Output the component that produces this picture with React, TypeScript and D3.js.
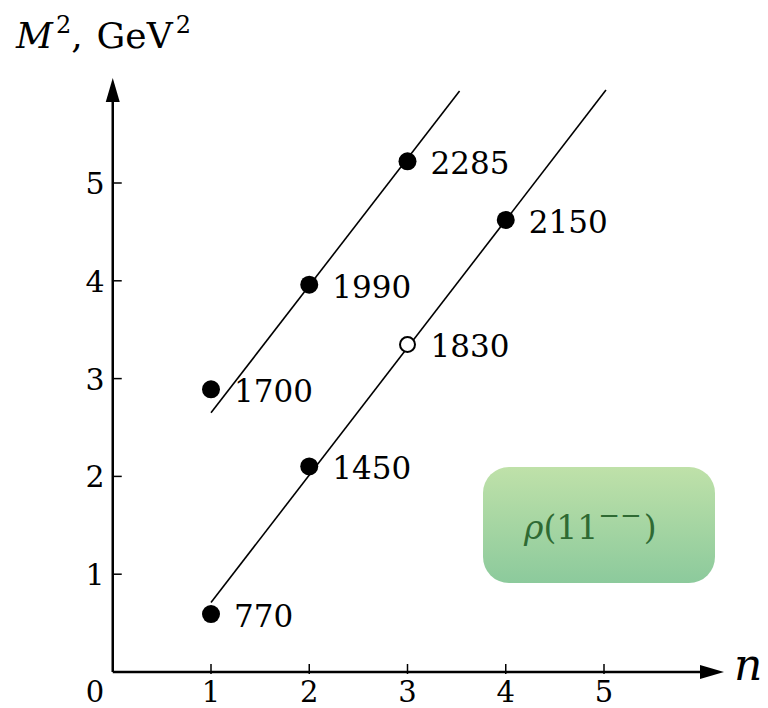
import { useRef, useEffect } from 'react';
import * as d3 from 'd3';

// states: radial number n, mass in MeV (M^2 = (mass/1000)^2)
const upperStates = [
  { n: 1, mass: 1700, open: false },
  { n: 2, mass: 1990, open: false },
  { n: 3, mass: 2285, open: false },
];
const lowerStates = [
  { n: 1, mass: 770, open: false },
  { n: 2, mass: 1450, open: false },
  { n: 3, mass: 1830, open: true },
  { n: 4, mass: 2150, open: false },
];
// trajectory end points (n, M^2)
const upperLine = [
  { n: 1, m2: 2.65 },
  { n: 3.53, m2: 5.94 },
];
const lowerLine = [
  { n: 1, m2: 0.71 },
  { n: 5.02, m2: 5.95 },
];
const xTicks = [1, 2, 3, 4, 5];
const yTicks = [1, 2, 3, 4, 5];

const W = 768;
const H = 708;
const FONT = '"DejaVu Serif", "Liberation Serif", serif';

const App = () => {
  const ref = useRef<SVGSVGElement>(null);

  useEffect(() => {
    const svg = d3.select(ref.current);
    svg.selectAll('*').remove();

    const x = d3.scaleLinear().domain([0, 5]).range([112.75, 604]);
    const y = d3.scaleLinear().domain([0, 5]).range([672, 183]);

    const grad = svg.append('defs').append('linearGradient')
      .attr('id', 'boxGrad')
      .attr('x1', 0).attr('y1', 0).attr('x2', 0).attr('y2', 1);
    grad.append('stop').attr('offset', '0%').attr('stop-color', '#bfe1a9');
    grad.append('stop').attr('offset', '100%').attr('stop-color', '#8cca9c');

    // axes
    const x0 = x(0);
    const y0 = y(0);
    svg.append('line')
      .attr('x1', x0).attr('y1', y0).attr('x2', 710).attr('y2', y0)
      .attr('stroke', '#000').attr('stroke-width', 2.5);
    svg.append('path')
      .attr('d', `M${724},${y0} L${700},${y0 - 7} L${700},${y0 + 7} z`)
      .attr('fill', '#000');
    svg.append('line')
      .attr('x1', x0).attr('y1', y0).attr('x2', x0).attr('y2', 95)
      .attr('stroke', '#000').attr('stroke-width', 2.5);
    svg.append('path')
      .attr('d', `M${x0},${78} L${x0 - 7},${102} L${x0 + 7},${102} z`)
      .attr('fill', '#000');

    svg.selectAll('.xtick')
      .data(xTicks)
      .enter().append('line')
      .attr('x1', d => x(d)).attr('x2', d => x(d))
      .attr('y1', y0 - 8).attr('y2', y0 + 2)
      .attr('stroke', '#000').attr('stroke-width', 1.5);
    svg.selectAll('.xlabel')
      .data([0, ...xTicks])
      .enter().append('text')
      .attr('x', d => (d === 0 ? 95 : x(d)))
      .attr('y', 702)
      .attr('text-anchor', 'middle')
      .attr('font-family', FONT).attr('font-size', 29)
      .text(d => d);

    svg.selectAll('.ytick')
      .data(yTicks)
      .enter().append('line')
      .attr('x1', x0).attr('x2', x0 + 9)
      .attr('y1', d => y(d)).attr('y2', d => y(d))
      .attr('stroke', '#000').attr('stroke-width', 1.5);
    svg.selectAll('.ylabel')
      .data(yTicks)
      .enter().append('text')
      .attr('x', 95).attr('y', d => y(d) + 11)
      .attr('text-anchor', 'middle')
      .attr('font-family', FONT).attr('font-size', 30)
      .text(d => d);

    // axis titles
    const t = svg.append('text')
      .attr('x', 16).attr('y', 48)
      .attr('font-family', FONT).attr('font-size', 36);
    t.append('tspan').attr('font-style', 'italic').text('M');
    t.append('tspan').attr('font-size', 24).attr('dx', 3).attr('dy', -15).text('2');
    t.append('tspan').attr('dy', 15).text(',');
    t.append('tspan').attr('dx', 14).text('GeV');
    t.append('tspan').attr('font-size', 24).attr('dx', 3).attr('dy', -15).text('2');

    svg.append('text')
      .attr('x', 734).attr('y', 680)
      .attr('font-family', FONT).attr('font-style', 'italic').attr('font-size', 44)
      .text('n');

    // trajectories
    const line = d3.line<{ n: number; m2: number }>()
      .x(d => x(d.n)).y(d => y(d.m2));
    [upperLine, lowerLine].forEach(l => {
      svg.append('path')
        .attr('d', line(l))
        .attr('fill', 'none')
        .attr('stroke', '#000').attr('stroke-width', 1.6);
    });

    // states
    const states = [...upperStates, ...lowerStates];
    const m2 = (d: { mass: number }) => (d.mass / 1000) ** 2;
    svg.selectAll('.pt')
      .data(states)
      .enter().append('circle')
      .attr('cx', d => x(d.n)).attr('cy', d => y(m2(d)))
      .attr('r', d => (d.open ? 7.5 : 9))
      .attr('fill', d => (d.open ? '#fff' : '#000'))
      .attr('stroke', '#000').attr('stroke-width', d => (d.open ? 2 : 0));
    svg.selectAll('.pl')
      .data(states)
      .enter().append('text')
      .attr('x', d => x(d.n) + 23).attr('y', d => y(m2(d)) + 13)
      .attr('font-family', FONT).attr('font-size', 31)
      .text(d => d.mass);

    // label box
    svg.append('rect')
      .attr('x', 483).attr('y', 467)
      .attr('width', 232).attr('height', 116)
      .attr('rx', 26).attr('ry', 26)
      .attr('fill', 'url(#boxGrad)');
    const lb = svg.append('text')
      .attr('x', 524).attr('y', 539)
      .attr('font-family', FONT).attr('font-size', 33)
      .attr('fill', '#2f6a33');
    lb.append('tspan').attr('font-style', 'italic').text('ρ');
    lb.append('tspan').text('(11');
    lb.append('tspan').attr('font-size', 26).attr('dy', -15).text('−−');
    lb.append('tspan').attr('dx', 2).attr('dy', 15).text(')');
  }, []);

  return (
    <svg
      ref={ref}
      width={W}
      height={H}
      style={{ position: 'absolute', left: 0, top: 0, background: '#fff' }}
    />
  );
};

export default App;
